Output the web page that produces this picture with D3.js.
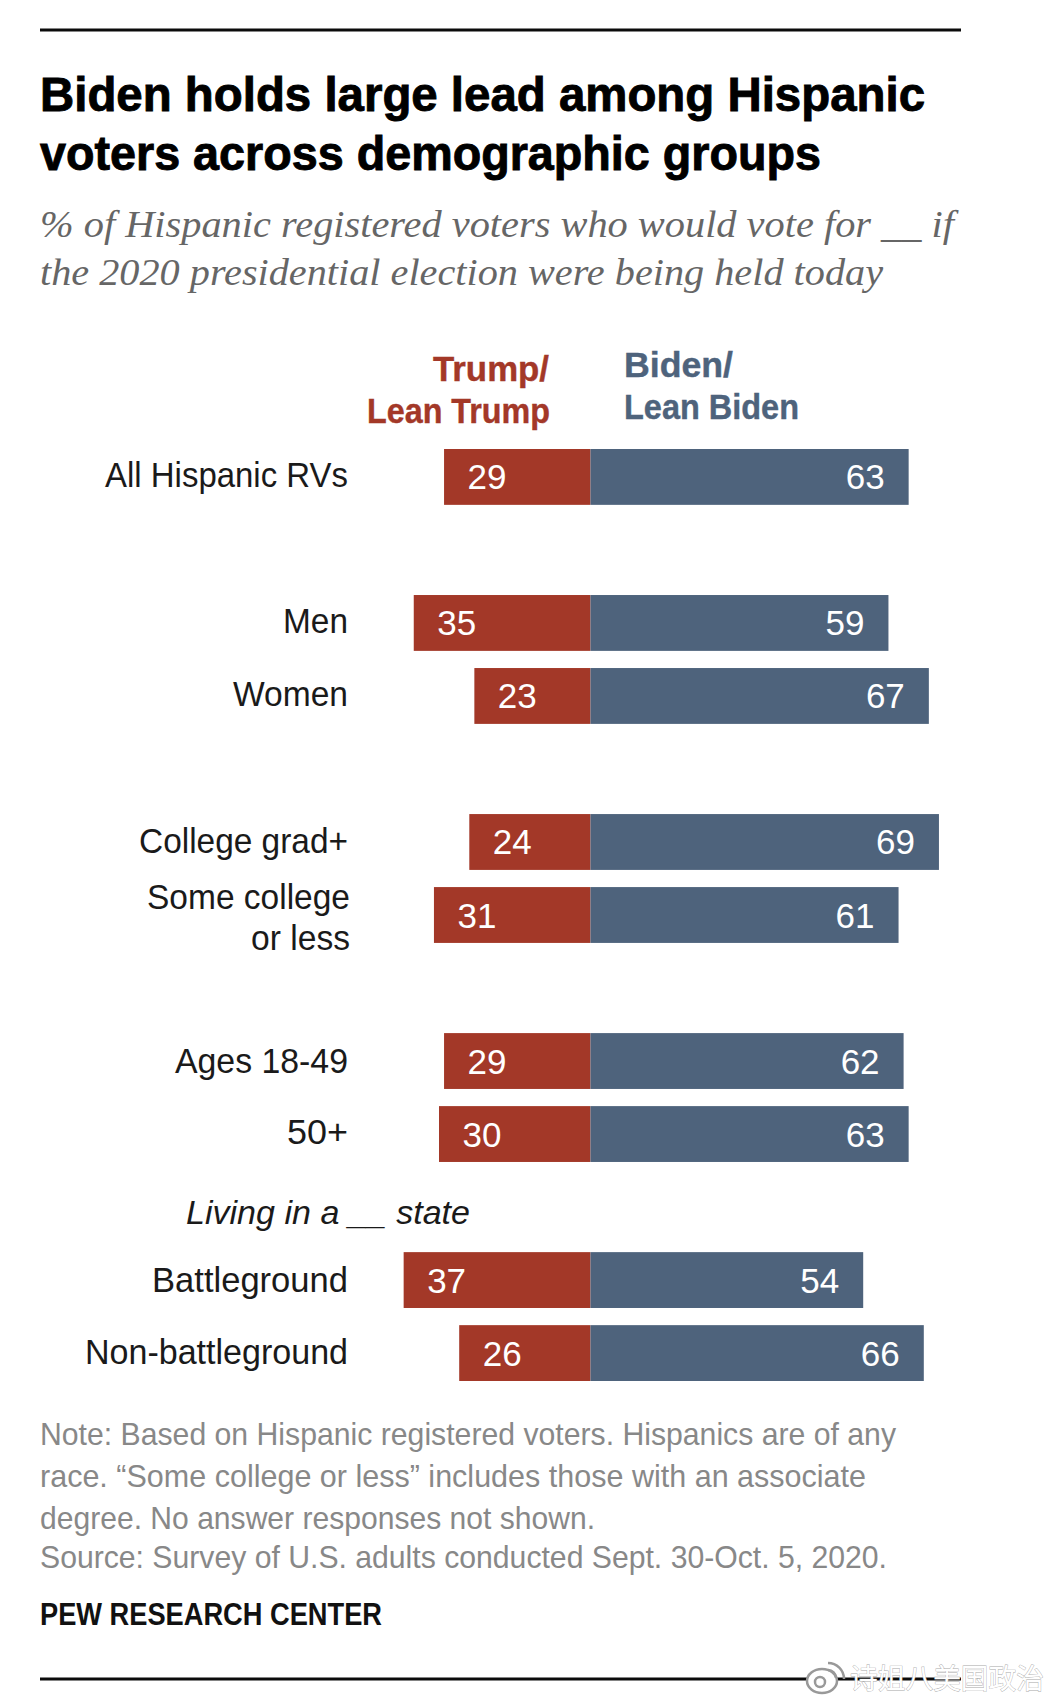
<!DOCTYPE html>
<html><head><meta charset="utf-8">
<script src="https://cdn.jsdelivr.net/npm/d3@7"></script>
<style>html,body{margin:0;padding:0;background:#fff}svg{display:block}</style>
</head><body>
<svg id="c" width="1055" height="1706"></svg>
<script>
const rows = ["All Hispanic RVs","gap1","Men","Women","gap2","College grad+","Some college or less","gap3","Ages 18-49","50+","gap4","Battleground","Non-battleground"];
const categories = ["All Hispanic RVs","Men","Women","College grad+","Some college or less","Ages 18-49","50+","Battleground","Non-battleground"];
const trump = [29,35,23,24,31,29,30,37,26];
const biden = [63,59,67,69,61,62,63,54,66];
const titleLines = ["Biden holds large lead among Hispanic","voters across demographic groups"];
const subtitleLines = ["% of Hispanic registered voters who would vote for __ if","the 2020 presidential election were being held today"];
const noteLines = ["Note: Based on Hispanic registered voters. Hispanics are of any","race. “Some college or less” includes those with an associate","degree. No answer responses not shown.","Source: Survey of U.S. adults conducted Sept. 30-Oct. 5, 2020."];

const RED="#A33828", BLUE="#4E637C";
const svg=d3.select("#c");
svg.append("rect").attr("width",1055).attr("height",1706).attr("fill","#fff");
const x=d3.scaleLinear().domain([0,100]).range([590.5,1095.5]);
const y=d3.scaleBand().domain(rows).range([449,1381]).paddingInner(0.235).paddingOuter(0);
const sans="'Liberation Sans',Arial,sans-serif";
const bold="'Liberation Sans','Roboto',Arial,sans-serif";
const labelLayout={
 "All Hispanic RVs":[243,0],"Men":[65,0],"Women":[115,0],"College grad+":[209,1],
 "Ages 18-49":[173,2],"50+":[61,0],"Battleground":[196,2],"Non-battleground":[263,1]
};

function txt(s,px,py,size,fill,fam,o={}){
  const t=svg.append("text").attr("x",px).attr("y",py).attr("font-size",size).attr("fill",fill)
   .attr("font-family",fam).attr("font-weight",o.w||"normal").attr("font-style",o.i?"italic":"normal")
   .attr("text-anchor",o.a||"start").text(s);
  if(o.len) t.attr("textLength",o.len).attr("lengthAdjust","spacingAndGlyphs");
  if(o.sw) t.attr("stroke",fill).attr("stroke-width",o.sw);
  return t;
}
// rules
[30,1679].forEach(r=>svg.append("line").attr("x1",40).attr("x2",961).attr("y1",r).attr("y2",r).attr("stroke","#0b0b0b").attr("stroke-width",3));
// title
[[110.5,885],[169.5,781]].forEach((p,i)=>txt(titleLines[i],40,p[0],48,"#000",bold,{w:"bold",len:p[1],sw:0.9}));
// subtitle
[[236.5,914],[284.5,843]].forEach((p,i)=>txt(subtitleLines[i],40,p[0],38,"#666","'Liberation Serif',serif",{i:true,len:p[1]}));
// headers
txt("Trump/",433,381,35,RED,bold,{w:"bold",len:116,sw:0.4});
txt("Lean Trump",367,423,35,RED,bold,{w:"bold",len:183,sw:0.4});
txt("Biden/",624,377,35,BLUE,bold,{w:"bold",len:109,sw:0.4});
txt("Lean Biden",624,419,35,BLUE,bold,{w:"bold",len:175,sw:0.4});
// bars
const g=svg.append("g");
const d=categories.map((c,i)=>({c,t:trump[i],b:biden[i]}));
g.selectAll("rect.t").data(d).join("rect").attr("class","t")
 .attr("x",v=>x(-v.t)).attr("y",v=>y(v.c)).attr("width",v=>x(0)-x(-v.t)).attr("height",y.bandwidth()).attr("fill",RED);
g.selectAll("rect.b").data(d).join("rect").attr("class","b")
 .attr("x",x(0)).attr("y",v=>y(v.c)).attr("width",v=>x(v.b)-x(0)).attr("height",y.bandwidth()).attr("fill",BLUE);
g.selectAll("text.tv").data(d).join("text").attr("class","tv")
 .attr("x",v=>x(-v.t)+23.5).attr("y",v=>y(v.c)+y.bandwidth()/2+12.5).attr("fill","#fff").attr("font-size",35).attr("font-family",bold).text(v=>v.t);
g.selectAll("text.bv").data(d).join("text").attr("class","bv")
 .attr("x",v=>x(v.b)-24).attr("y",v=>y(v.c)+y.bandwidth()/2+12.5).attr("fill","#fff").attr("font-size",35).attr("font-family",bold).attr("text-anchor","end").text(v=>v.b);
// category labels
d.forEach(v=>{
  const cy=y(v.c)+y.bandwidth()/2;
  if(v.c==="Some college or less"){
    txt("Some college",350,cy-6,35,"#1a1a1a",sans,{a:"end",len:203});
    txt("or less",350,cy+35,35,"#1a1a1a",sans,{a:"end",len:99});
  } else {
    const [w,dy]=labelLayout[v.c];
    txt(v.c,348,cy+10+dy,35,"#1a1a1a",sans,{a:"end",len:w});
  }
});
txt("Living in a __ state",186,1224,34,"#1a1a1a",sans,{i:true,len:284});
// notes
[[1445,856],[1487,826],[1529,555],[1568,847]].forEach((p,i)=>txt(noteLines[i],40,p[0],32,"#888",sans,{len:p[1]}));
txt("PEW RESEARCH CENTER",40,1625,31,"#111",bold,{w:"bold",len:342});
// watermark
const wm=svg.append("g").attr("fill","none").attr("stroke","#999").attr("stroke-width",2.5);
wm.append("ellipse").attr("cx",822).attr("cy",1681).attr("rx",15).attr("ry",12).attr("fill","#fff");
wm.append("circle").attr("cx",820).attr("cy",1682).attr("r",5);
wm.append("path").attr("d","M828 1663a16 16 0 0 1 16 16M828 1670a8 8 0 0 1 8 8");
txt("诗姐八美国政治",850,1689,28,"#fff","'Noto Sans CJK SC',sans-serif",{len:194}).attr("stroke","#aaa").attr("stroke-width",0.8).attr("paint-order","stroke");
</script></body></html>
